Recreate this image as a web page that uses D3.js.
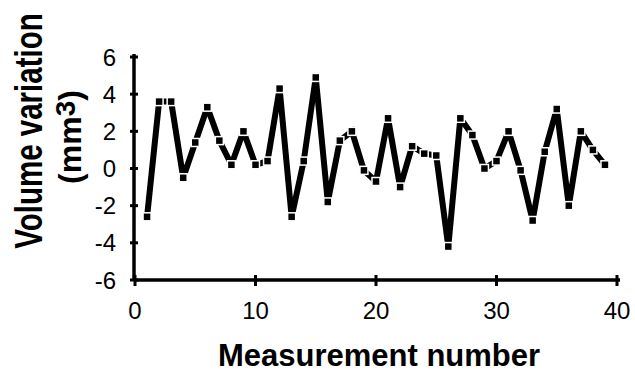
<!DOCTYPE html>
<html>
<head>
<meta charset="utf-8">
<script src="https://cdn.jsdelivr.net/npm/d3@7"></script>
<style>
  html, body { margin: 0; padding: 0; background: #fff; }
  svg { display: block; }
  text { font-family: "Liberation Sans", Arial, Helvetica, sans-serif; fill: #000; }
</style>
</head>
<body>
<svg id="chart" width="635" height="374"></svg>
<script>
const measurement = [1,2,3,4,5,6,7,8,9,10,11,12,13,14,15,16,17,18,19,20,21,22,23,24,25,26,27,28,29,30,31,32,33,34,35,36,37,38,39];
const volumeVariation = [-2.6,3.6,3.6,-0.5,1.4,3.3,1.5,0.2,2.0,0.2,0.4,4.3,-2.6,0.4,4.9,-1.8,1.5,2.0,-0.1,-0.7,2.7,-1.0,1.2,0.8,0.7,-4.2,2.7,1.8,0.0,0.4,2.0,-0.1,-2.8,0.9,3.2,-2.0,2.0,1.0,0.2];
const xTicks = [0,10,20,30,40];
const yTicks = [-6,-4,-2,0,2,4,6];

const svg = d3.select("#chart");
const x = d3.scaleLinear().domain([0,40]).range([135,617]);
const y = d3.scaleLinear().domain([-6,6]).range([280,57]);

// axes lines
svg.append("line").attr("x1",x(0)-1).attr("x2",x(40)+3).attr("y1",y(-6)).attr("y2",y(-6))
  .attr("stroke","#000").attr("stroke-width",3.5);
svg.append("line").attr("x1",x(0)-1).attr("x2",x(0)-1).attr("y1",y(6)-3).attr("y2",y(-6))
  .attr("stroke","#000").attr("stroke-width",3.5);

// y ticks
svg.selectAll(".yt").data(yTicks).enter().append("line")
  .attr("x1",x(0)-5).attr("x2",x(0)+3).attr("y1",d=>y(d)).attr("y2",d=>y(d))
  .attr("stroke","#000").attr("stroke-width",3);
svg.selectAll(".yl").data(yTicks).enter().append("text")
  .attr("x",116).attr("y",d=>y(d)).attr("dy","0.36em")
  .attr("text-anchor","end").attr("font-size",24)
  .text(d=>d);

// x ticks
svg.selectAll(".xt").data(xTicks).enter().append("line")
  .attr("x1",d=>x(d)).attr("x2",d=>x(d)).attr("y1",y(-6)-5).attr("y2",y(-6)+6)
  .attr("stroke","#000").attr("stroke-width",3);
svg.selectAll(".xl").data(xTicks).enter().append("text")
  .attr("x",d=>x(d)).attr("y",319)
  .attr("text-anchor","middle").attr("font-size",24)
  .text(d=>d);

// titles
svg.append("text").attr("x",379).attr("y",366).attr("text-anchor","middle")
  .attr("font-size",31).attr("font-weight","bold").text("Measurement number");

svg.append("text").attr("transform","translate(42,131) rotate(-90) scale(1,1.3)")
  .attr("text-anchor","middle").attr("font-size",29.5).attr("font-weight","bold")
  .text("Volume variation");
const t2 = svg.append("text").attr("transform","translate(81,137) rotate(-90)")
  .attr("text-anchor","middle").attr("font-size",32).attr("font-weight","bold");
t2.append("tspan").text("(mm");
t2.append("tspan").attr("dy",-6).attr("font-size",28).text("3");
t2.append("tspan").attr("dy",6).text(")");

// line
const pts = measurement.map((m,i)=>[m, volumeVariation[i]]);
svg.append("path").datum(pts)
  .attr("d", d3.line().x(d=>x(d[0])).y(d=>y(d[1])))
  .attr("fill","none").attr("stroke","#000").attr("stroke-width",6)
  .attr("stroke-linejoin","miter").attr("stroke-miterlimit",2);

// markers
svg.selectAll(".mk").data(pts).enter().append("rect")
  .attr("x",d=>x(d[0])-4).attr("y",d=>y(d[1])-4)
  .attr("width",8).attr("height",8)
  .attr("fill","#000").attr("stroke","#fff").attr("stroke-width",1.5);
</script>
</body>
</html>
